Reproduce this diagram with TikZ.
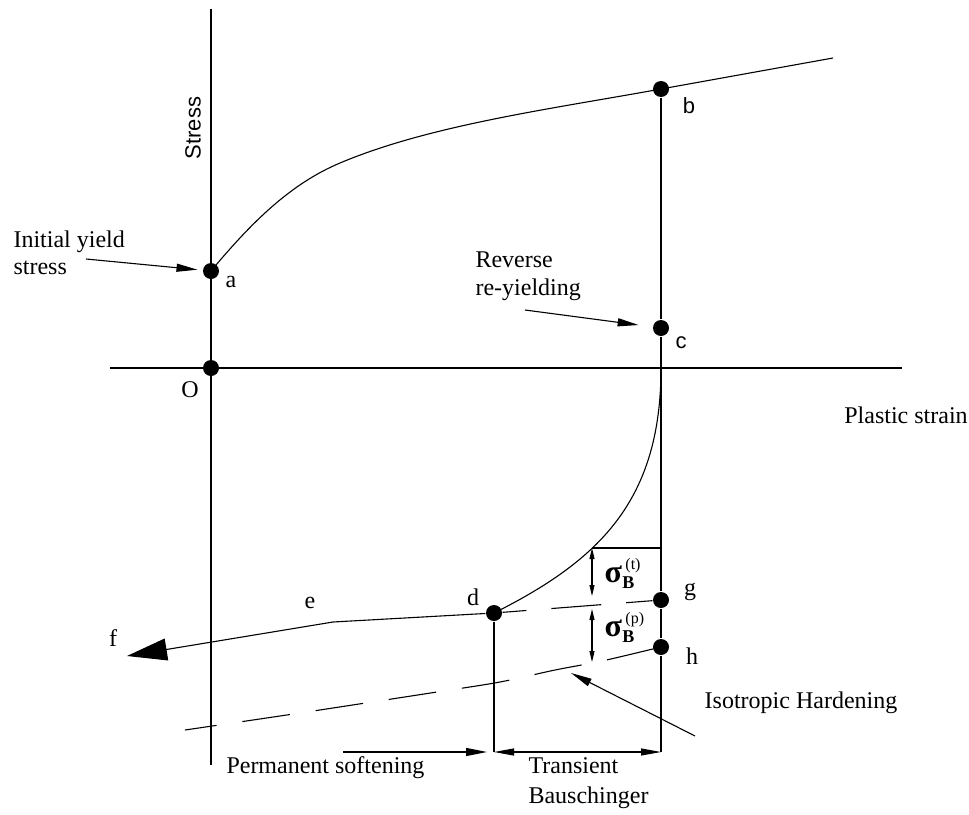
\documentclass[tikz,border=0pt]{standalone}
\usepackage{fontspec}
\setmainfont{Liberation Serif}
\newfontfamily\sansf{Liberation Sans}
\usetikzlibrary{arrows.meta}
\begin{document}
\begin{tikzpicture}[x=1pt,y=-1pt,line width=1.1pt,
  dot/.style={circle,fill=black,inner sep=0pt,minimum size=16pt},
  txt/.style={font=\fontsize{24}{27}\selectfont,inner sep=0pt},
  sanslbl/.style={font=\sansf\fontsize{22}{26}\selectfont,inner sep=0pt},
  arr/.style={-{Triangle[length=21pt,width=8pt]}},
  darr/.style={{Triangle[length=20pt,width=7pt]}-{Triangle[length=20pt,width=7pt]}},
  sarr/.style={{Triangle[length=11pt,width=5pt]}-{Triangle[length=11pt,width=5pt]}},
  bigarr/.style={-{Triangle[length=40pt,width=22pt]}}
]
\useasboundingbox (0,0) rectangle (969,814);

% axes
\coordinate (ytop) at (211,9);
\coordinate (ybot) at (211,765);
\coordinate (xl) at (110,368);
\coordinate (xr) at (902,368);
\draw (ytop) -- (ybot);
\draw (xl) -- (xr);

% points
\node[dot] (O) at (211,368) {};
\node[dot] (a) at (211,271) {};
\node[dot] (b) at (661,89) {};
\node[dot] (c) at (661,328) {};
\node[dot] (d) at (494,613) {};
\node[dot] (g) at (661,600) {};
\node[dot] (h) at (661,647) {};

% right vertical line
\coordinate (rb) at (661,752);
\draw (b) -- (c);
\draw (c) -- (g);
\draw (g) -- (h);
\draw (h) -- (rb);

% d vertical line
\coordinate (db) at (494,752);
\draw (d) -- (db);

% upper curve
\coordinate (umid) at (340,163);
\coordinate (bend) at (833,58);
\draw (a.center) .. controls (251,223) and (290,184) .. (umid)
      .. controls (430,125) and (551,109) .. (b.center) -- (bend);

% lower reverse curve
\coordinate (x0) at (661,368);
\draw (x0) .. controls (661,500) and (600,560) .. (d.center);

% sigma box
\coordinate (bxl) at (592,548);
\coordinate (bxr) at (661,548);
\draw (bxl) -- (bxr);
\coordinate (s1t) at (592,548);
\coordinate (s1b) at (592,596);
\coordinate (s2t) at (592,609);
\coordinate (s2b) at (592,662);
\draw[sarr] (s1t) -- (s1b);
\draw[sarr] (s2t) -- (s2b);

% dashed d-g
\draw[dash pattern=on 24pt off 25pt on 50pt off 25pt on 60pt] (d) -- (g);

% e-f branch
\coordinate (ebend) at (333,622);
\coordinate (ftip) at (127,656);
\draw[bigarr] (d) -- (ebend) -- (ftip);

% isotropic hardening dashed line
\draw[dash pattern=on 48pt off 26pt, dash phase=16pt] plot[smooth] coordinates {(185,730) (300,713) (437,692) (500,682) (555,670) (602,661) (661,647)};

% bottom arrows
\coordinate (ps) at (343,752);
\coordinate (pe) at (487,752);
\draw[arr] (ps) -- (pe);
\coordinate (ts) at (494,752);
\coordinate (te) at (661,752);
\draw[darr] (ts) -- (te);

% annotation arrows
\coordinate (iy) at (86,259);
\draw[arr, shorten >=5pt] (iy) -- (a);
\coordinate (rv) at (525,310);
\draw[arr, shorten >=14pt] (rv) -- (c);
\coordinate (ih) at (695,736);
\coordinate (iht) at (571,673);
\draw[arr] (ih) -- (iht);

% point labels
\node[txt] (lO) at (190,390) {O};
\node[txt] (la) at (231,282) {a};
\node[sanslbl] (lb) at (689,106) {b};
\node[sanslbl] (lc) at (681,343) {c};
\node[txt] (ld) at (473,597) {d};
\node[txt] (le) at (310,603) {e};
\node[txt] (lf) at (113,638) {f};
\node[txt] (lg) at (690,592) {g};
\node[txt] (lh) at (692,656) {h};

% texts
\node[sanslbl, rotate=90] (stress) at (193,128) {Stress};
\node[txt, anchor=west, align=left] (tiy) at (13,253) {Initial yield\\stress};
\node[txt, anchor=west, align=left, font=\fontsize{24}{28}\selectfont] (trv) at (475,276) {Reverse\\re-yielding};
\node[txt] (tps) at (906,415) {Plastic strain};
\node[txt] (tih) at (801,703) {Isotropic Hardening};
\node[txt, anchor=east] (tpsoft) at (425,768) {Permanent softening};
\node[txt, anchor=west, align=left, font=\fontsize{24}{30}\selectfont] (ttb) at (528,783) {Transient\\Bauschinger};

% sigma labels
\node[anchor=base west, inner sep=0pt] (sigt) at (604,582) {\fontsize{32}{32}\selectfont\bfseries σ\kern0.5pt\rlap{\kern3pt\raisebox{13pt}{\fontsize{16}{16}\selectfont\mdseries(t)}}\raisebox{-6pt}{\fontsize{18}{18}\selectfont B}};
\node[anchor=base west, inner sep=0pt] (sigp) at (604,636) {\fontsize{32}{32}\selectfont\bfseries σ\kern0.5pt\rlap{\kern3pt\raisebox{13pt}{\fontsize{16}{16}\selectfont\mdseries(p)}}\raisebox{-6pt}{\fontsize{18}{18}\selectfont B}};
\end{tikzpicture}
\end{document}
